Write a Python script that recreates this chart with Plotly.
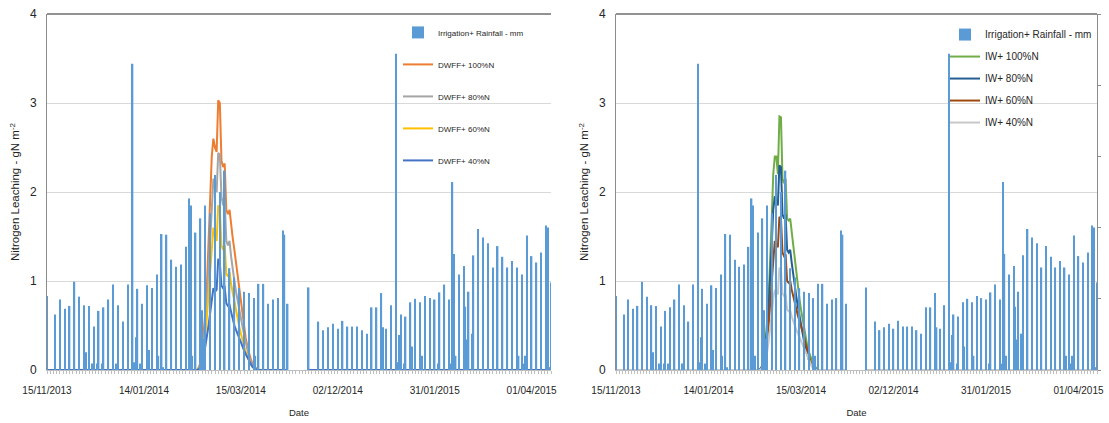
import pandas as pd
import plotly.graph_objects as go

# ---------------- categories (daily, two seasons) ----------------
season1 = pd.date_range("2013-11-15", "2014-04-13", freq="D")
season2 = pd.date_range("2014-11-02", "2015-04-13", freq="D")
categories = [d.strftime("%d/%m/%Y") for d in list(season1) + list(season2)]
no_data_dates = [d.strftime("%d/%m/%Y") for d in pd.date_range("2014-11-02", "2014-11-13")]
tick_labels = ["15/11/2013", "14/01/2014", "15/03/2014", "02/12/2014", "31/01/2015", "01/04/2015"]

# ---------------- irrigation + rainfall (mm) ----------------
rain_dates = [
    "15/11/2013", "20/11/2013", "23/11/2013", "26/11/2013", "29/11/2013", "02/12/2013", "05/12/2013",
    "08/12/2013", "09/12/2013", "11/12/2013", "13/12/2013", "14/12/2013", "16/12/2013", "17/12/2013",
    "19/12/2013", "20/12/2013", "23/12/2013", "26/12/2013", "28/12/2013", "29/12/2013", "01/01/2014",
    "04/01/2014", "07/01/2014", "08/01/2014", "09/01/2014", "10/01/2014", "12/01/2014", "13/01/2014",
    "16/01/2014", "17/01/2014", "19/01/2014", "22/01/2014", "23/01/2014", "25/01/2014", "26/01/2014",
    "28/01/2014", "31/01/2014", "03/02/2014", "06/02/2014", "09/02/2014", "11/02/2014", "12/02/2014",
    "13/02/2014", "15/02/2014", "18/02/2014", "19/02/2014", "20/02/2014", "21/02/2014", "24/02/2014",
    "27/02/2014", "02/03/2014", "05/03/2014", "08/03/2014", "11/03/2014", "14/03/2014", "17/03/2014",
    "20/03/2014", "23/03/2014", "24/03/2014", "26/03/2014", "29/03/2014", "01/04/2014", "04/04/2014",
    "07/04/2014", "10/04/2014", "11/04/2014", "13/04/2014",
    "14/11/2014", "20/11/2014", "23/11/2014", "26/11/2014", "29/11/2014", "02/12/2014", "05/12/2014",
    "08/12/2014", "11/12/2014", "14/12/2014", "17/12/2014", "20/12/2014", "23/12/2014", "26/12/2014",
    "29/12/2014", "30/12/2014", "01/01/2015", "04/01/2015", "07/01/2015", "08/01/2015", "09/01/2015",
    "10/01/2015", "12/01/2015", "13/01/2015", "16/01/2015", "17/01/2015", "19/01/2015", "22/01/2015",
    "23/01/2015", "25/01/2015", "28/01/2015", "31/01/2015", "02/02/2015", "03/02/2015", "06/02/2015",
    "09/02/2015", "10/02/2015", "11/02/2015", "12/02/2015", "13/02/2015", "15/02/2015", "18/02/2015",
    "19/02/2015", "20/02/2015", "21/02/2015", "23/02/2015", "24/02/2015", "27/02/2015", "02/03/2015",
    "05/03/2015", "08/03/2015", "11/03/2015", "14/03/2015", "17/03/2015", "20/03/2015", "23/03/2015",
    "24/03/2015", "26/03/2015", "27/03/2015", "28/03/2015", "29/03/2015", "01/04/2015", "04/04/2015",
    "07/04/2015", "10/04/2015", "11/04/2015", "12/04/2015", "13/04/2015",
]
rain_mm = [
    10.4, 7.8, 9.9, 8.6, 9.0, 12.4, 10.3,
    9.1, 2.5, 9.0, 0.9, 6.1, 0.9, 8.3,
    0.9, 8.8, 9.9, 12.0, 0.9, 9.1, 6.8,
    12.0, 43.0, 1.1, 4.6, 11.4, 0.9, 9.3,
    11.9, 2.8, 11.5, 13.4, 2.0, 19.1, 0.4,
    19.0, 15.5, 14.5, 14.8, 17.3, 24.1, 23.1,
    2.0, 19.3, 21.3, 8.4, 4.4, 23.1, 22.0,
    27.4, 25.0, 28.0, 14.3, 13.0, 11.5, 11.0,
    10.8, 10.1, 2.0, 12.1, 12.1, 9.3, 9.9,
    10.1, 19.6, 19.0, 9.3,
    11.6, 6.8, 5.6, 6.0, 6.5, 5.8, 6.9,
    6.1, 6.1, 6.1, 5.6, 5.1, 8.8, 8.8,
    10.8, 6.0, 5.8, 9.1, 44.4, 1.1, 4.9,
    7.8, 0.9, 7.5, 9.5, 3.3, 10.0, 9.5,
    2.0, 10.4, 10.1, 9.9, 0.9, 10.9, 12.0,
    9.9, 0.9, 26.4, 16.3, 2.0, 13.4, 14.6,
    8.9, 4.3, 11.0, 5.1, 16.1, 19.8, 18.6,
    17.8, 14.4, 17.4, 15.9, 14.4, 15.3, 14.4,
    2.0, 13.4, 0.9, 2.0, 18.9, 16.0, 15.1,
    16.5, 20.3, 20.0, 0.4, 12.3,
]

# ---------------- nitrogen leaching (gN m-2), 16/02/2014 .. 26/03/2014 ----------------
leach_dates = [d.strftime("%d/%m/%Y") for d in pd.date_range("2014-02-16", "2014-03-26")]
dwff_100 = [0, 0.03, 0.08, 0.2, 0.4, 0.65, 0.95, 1.4, 1.9, 2.4, 2.6, 2.5, 2.45, 3.03, 3.0, 2.35, 2.28, 2.32,
            1.8, 1.75, 1.8, 1.62, 1.48, 1.35, 1.2, 1.05, 0.9, 0.75, 0.6, 0.47, 0.36, 0.27, 0.19, 0.13,
            0.08, 0.05, 0.03, 0.01, 0]
dwff_80 = [0, 0.02, 0.06, 0.15, 0.3, 0.5, 0.75, 1.1, 1.5, 1.9, 2.15, 2.05, 2.0, 2.44, 2.42, 1.95, 1.85, 1.9,
           1.45, 1.4, 1.45, 1.27, 1.1, 1.0, 0.88, 0.77, 0.67, 0.58, 0.49, 0.4, 0.31, 0.22, 0.15, 0.1,
           0.06, 0.03, 0.01, 0, 0]
dwff_60 = [0, 0.02, 0.05, 0.12, 0.25, 0.4, 0.6, 0.85, 1.1, 1.35, 1.6, 1.5, 1.45, 1.85, 1.8, 1.4, 1.35, 1.4,
           1.08, 1.05, 1.1, 0.96, 0.86, 0.76, 0.67, 0.58, 0.49, 0.41, 0.33, 0.26, 0.2, 0.15, 0.1, 0.07,
           0.04, 0.02, 0.01, 0, 0]
dwff_40 = [0, 0.01, 0.04, 0.08, 0.15, 0.25, 0.38, 0.5, 0.65, 0.8, 0.92, 0.88, 0.9, 1.25, 1.2, 0.95, 0.92, 0.93,
           0.75, 0.72, 0.73, 0.65, 0.57, 0.5, 0.45, 0.4, 0.36, 0.32, 0.27, 0.22, 0.18, 0.14, 0.1, 0.07,
           0.04, 0.02, 0.01, 0, 0]
iw_100 = [0, 0.02, 0.05, 0.12, 0.3, 0.55, 0.8, 1.2, 1.7, 2.2, 2.4, 2.4, 2.2, 2.85, 2.84, 2.15, 2.1, 2.15,
          1.7, 1.68, 1.7, 1.55, 1.4, 1.22, 1.05, 0.92, 0.8, 0.68, 0.57, 0.47, 0.37, 0.28, 0.21, 0.15,
          0.1, 0.06, 0.04, 0.02, 0]
iw_80 = [0, 0.02, 0.05, 0.1, 0.25, 0.45, 0.7, 1.0, 1.4, 1.8, 1.95, 1.9, 1.85, 2.3, 2.28, 1.75, 1.7, 1.75,
         1.35, 1.32, 1.35, 1.2, 1.06, 0.94, 0.82, 0.71, 0.6, 0.5, 0.4, 0.32, 0.24, 0.17, 0.12, 0.08,
         0.05, 0.03, 0.01, 0, 0]
iw_60 = [0, 0.01, 0.04, 0.08, 0.18, 0.32, 0.5, 0.75, 1.0, 1.3, 1.45, 1.4, 1.38, 1.72, 1.7, 1.32, 1.28, 1.3,
         1.0, 0.98, 1.0, 0.9, 0.82, 0.74, 0.67, 0.61, 0.55, 0.5, 0.45, 0.38, 0.3, 0.22, 0.16, 0.1,
         0.06, 0.03, 0.01, 0, 0]
iw_40 = [0, 0.01, 0.03, 0.06, 0.12, 0.2, 0.32, 0.45, 0.62, 0.8, 0.9, 0.88, 0.85, 1.15, 1.12, 0.86, 0.83, 0.85,
         0.68, 0.66, 0.67, 0.6, 0.54, 0.49, 0.45, 0.41, 0.37, 0.33, 0.29, 0.24, 0.19, 0.15, 0.11, 0.07,
         0.04, 0.02, 0.01, 0, 0]


def full_series(values):
    lookup = dict(zip(leach_dates, values))
    out = []
    for c in categories:
        if c in no_data_dates:
            out.append(None)
        else:
            out.append(lookup.get(c, 0))
    return out


FONT = "Liberation Sans, Arial, sans-serif"
TXT = "#262626"
RAIN_COLOR = "#5B9BD5"

fig = go.Figure()

left_series = [("DWFF+ 100%N", dwff_100, "#ED7D31"), ("DWFF+ 80%N", dwff_80, "#A5A5A5"),
               ("DWFF+ 60%N", dwff_60, "#FFC000"), ("DWFF+ 40%N", dwff_40, "#4472C4")]
right_series = [("IW+ 100%N", iw_100, "#70AD47"), ("IW+ 80%N", iw_80, "#255E91"),
                ("IW+ 60%N", iw_60, "#9E480E"), ("IW+ 40%N", iw_40, "#C8C8C8")]

# left panel
fig.add_trace(go.Bar(x=rain_dates, y=rain_mm, name="Irrigation+ Rainfall - mm", marker_color=RAIN_COLOR,
                     marker_line_width=0, xaxis="x", yaxis="y3", legend="legend", legendgroup="l0"))
for i, (nm, vals, col) in enumerate(left_series):
    fig.add_trace(go.Scatter(x=categories, y=full_series(vals), name=nm, mode="lines",
                             line=dict(color=col, width=2), xaxis="x", yaxis="y",
                             legend="legend", legendgroup="l%d" % (i + 1)))
# right panel
fig.add_trace(go.Bar(x=rain_dates, y=rain_mm, name="Irrigation+ Rainfall - mm", marker_color=RAIN_COLOR,
                     marker_line_width=0, xaxis="x2", yaxis="y4", legend="legend2", legendgroup="r0"))
for i, (nm, vals, col) in enumerate(right_series):
    fig.add_trace(go.Scatter(x=categories, y=full_series(vals), name=nm, mode="lines",
                             line=dict(color=col, width=2), xaxis="x2", yaxis="y2",
                             legend="legend2", legendgroup="r%d" % (i + 1)))

tickvals = categories[::2]
ticktext = [c if c in tick_labels else "" for c in tickvals]

W = 1109.0
xcommon = dict(type="category", categoryorder="array", categoryarray=categories, range=[0, len(categories) - 1],
               tickvals=tickvals, ticktext=ticktext, ticks="outside", ticklen=3, tickcolor="#BFBFBF",
               showline=True, linecolor="#BFBFBF", linewidth=1, showgrid=False, zeroline=False,
               tickangle=0, tickfont=dict(family=FONT, size=10, color=TXT), ticklabelstandoff=8,
               automargin=False,
               title=dict(text="Date", font=dict(family=FONT, size=9.5, color=TXT), standoff=14))
ycommon = dict(range=[0, 4], dtick=1, showgrid=True, gridcolor="#D9D9D9", gridwidth=1, zeroline=False,
               showline=True, linecolor="#8C8C8C", linewidth=1, ticks="", ticklabelstandoff=7,
               tickfont=dict(family=FONT, size=12, color=TXT), automargin=False,
               title=dict(text="Nitrogen Leaching - gN m<sup>-2</sup>", font=dict(family=FONT, size=11.5, color=TXT),
                          standoff=7))

fig.update_layout(
    width=1109, height=423, margin=dict(l=0, r=0, t=14, b=53),
    paper_bgcolor="white", plot_bgcolor="white", bargap=0.1,
    xaxis=dict(domain=[47 / W, 551 / W], anchor="y", **xcommon),
    xaxis2=dict(domain=[616 / W, 1097 / W], anchor="y2", **xcommon),
    yaxis=dict(anchor="x", **ycommon),
    yaxis2=dict(anchor="x2", **ycommon),
    yaxis3=dict(overlaying="y", anchor="x", side="right", range=[0, 50], visible=False),
    yaxis4=dict(overlaying="y2", anchor="x2", side="right", range=[0, 50], dtick=10, showgrid=False,
                showticklabels=False, ticks="outside", ticklen=3, tickcolor="#8C8C8C",
                showline=True, linecolor="#8C8C8C", linewidth=1, zeroline=False, automargin=False),
    legend=dict(x=398 / W, y=0.989, xanchor="left", yanchor="top", bgcolor="rgba(0,0,0,0)",
                font=dict(family=FONT, size=8, color=TXT), tracegroupgap=13, traceorder="grouped"),
    legend2=dict(x=945 / W, y=0.983, xanchor="left", yanchor="top", bgcolor="rgba(0,0,0,0)",
                 font=dict(family=FONT, size=10, color=TXT), tracegroupgap=3, traceorder="grouped"),
    showlegend=True,
    shapes=[
        dict(type="line", xref="x domain", yref="y domain", x0=0, x1=1, y0=1, y1=1,
             line=dict(color="#6E6E6E", width=1.5)),
        dict(type="line", xref="x2 domain", yref="y2 domain", x0=0, x1=1, y0=1, y1=1,
             line=dict(color="#6E6E6E", width=1.5)),
    ],
)

fig.write_html("out.html")
